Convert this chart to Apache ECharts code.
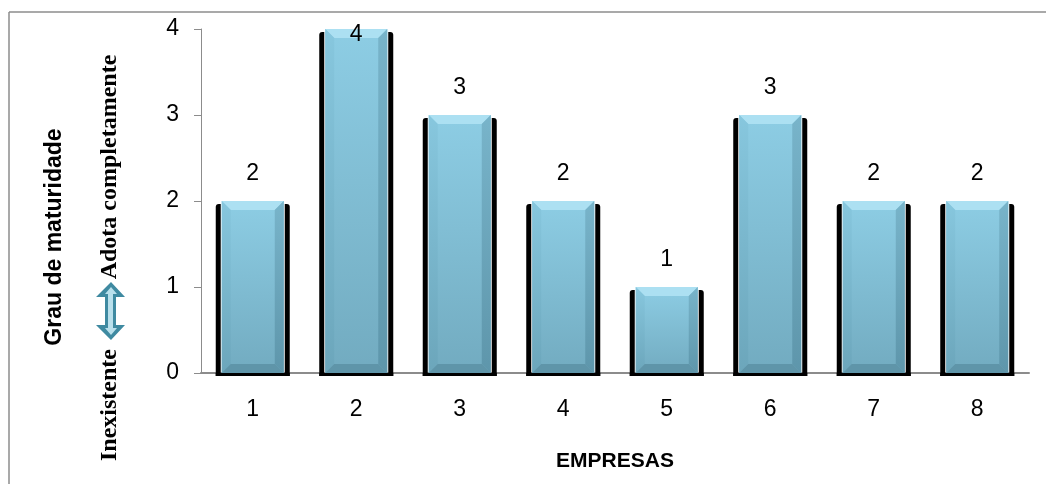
<!DOCTYPE html>
<html>
<head>
<meta charset="utf-8">
<script src="https://cdn.jsdelivr.net/npm/echarts@6/dist/echarts.min.js"></script>
<style>
  html, body { margin: 0; padding: 0; background: #fff; }
  #chart { width: 1046px; height: 484px; }
</style>
</head>
<body>
<div id="chart"></div>
<script>
var empresas = ["1", "2", "3", "4", "5", "6", "7", "8"]
var maturidade = [2, 4, 3, 2, 1, 3, 2, 2]
var yTicks = [0, 1, 2, 3, 4]

var chartDom = document.getElementById("chart")
var myChart = echarts.init(chartDom)
var option

// bar drawn like the bevelled excel column with dark side shadows
function renderBar(params, api) {
    var i = api.value(0)
    var v = api.value(1)
    var top = api.coord([i, v])
    var base = api.coord([i, 0])
    var cx = top[0]
    var w = api.size([1, 0])[0] * 0.715
    var x0 = cx - w / 2
    var x1 = cx + w / 2
    var ty = top[1]
    var by = base[1]
    var side = 5
    var bx0 = x0 + side + 1
    var bx1 = x1 - side - 1
    var bev = 9
    var plotTop = api.coord([0, 4])[1]
    var labelY = Math.max(ty - 27, plotTop + 6)
    return {
        type: "group",
        children: [
            { type: "rect", shape: { x: x0, y: ty + 3, width: side, height: by - ty, r: [3, 0, 0, 0] }, style: { fill: "#000" } },
            { type: "rect", shape: { x: x1 - side, y: ty + 3, width: side, height: by - ty, r: [0, 3, 0, 0] }, style: { fill: "#000" } },
            { type: "rect", shape: { x: x0, y: by, width: w, height: 3 }, style: { fill: "#000" } },
            { type: "rect", shape: { x: bx0, y: ty, width: bx1 - bx0, height: by - ty },
              style: { fill: new echarts.graphic.LinearGradient(0, 0, 0, 1, [
                  { offset: 0, color: "#8dcde4" }, { offset: 1, color: "#72abc0" }]) } },
            { type: "polygon", shape: { points: [[bx0, ty], [bx1, ty], [bx1 - bev, ty + bev], [bx0 + bev, ty + bev]] },
              style: { fill: "#ace0f2" } },
            { type: "polygon", shape: { points: [[bx0, ty], [bx0 + bev, ty + bev], [bx0 + bev, by - bev], [bx0, by]] },
              style: { fill: new echarts.graphic.LinearGradient(0, 0, 0, 1, [
                  { offset: 0, color: "#87c7de" }, { offset: 1, color: "#6ca6bb" }]) } },
            { type: "polygon", shape: { points: [[bx1, ty], [bx1 - bev, ty + bev], [bx1 - bev, by - bev], [bx1, by]] },
              style: { fill: new echarts.graphic.LinearGradient(0, 0, 0, 1, [
                  { offset: 0, color: "#78b4ca" }, { offset: 1, color: "#5e96ab" }]) } },
            { type: "polygon", shape: { points: [[bx0, by], [bx1, by], [bx1 - bev, by - bev], [bx0 + bev, by - bev]] },
              style: { fill: "#5f95a9" } },
            { type: "text", style: { text: String(v), x: cx, y: labelY, align: "center", verticalAlign: "middle",
              fontSize: 23, fontFamily: "Liberation Sans", fill: "#000" } }
        ]
    }
}

option = {
    animation: false,
    backgroundColor: "#fff",
    grid: {
        left: 201,
        right: 17,
        top: 29,
        bottom: 111
    },
    xAxis: {
        type: "category",
        data: empresas,
        axisLine: { lineStyle: { color: "#8c8c8c", width: 2 } },
        axisTick: { show: false },
        axisLabel: { fontSize: 23, color: "#000", fontFamily: "Liberation Sans", margin: 25 },
        name: "EMPRESAS",
        nameLocation: "middle",
        nameGap: 78,
        nameTextStyle: { fontSize: 21, fontWeight: "bold", color: "#000", fontFamily: "Liberation Sans" }
    },
    yAxis: {
        type: "value",
        min: yTicks[0],
        max: yTicks[yTicks.length - 1],
        interval: 1,
        axisLine: { show: true, lineStyle: { color: "#8c8c8c", width: 1 } },
        axisTick: { show: true, length: 7, lineStyle: { color: "#8c8c8c" } },
        splitLine: { show: false },
        axisLabel: { fontSize: 23, color: "#000", fontFamily: "Liberation Sans", margin: 22 }
    },
    graphic: [
        { type: "line", shape: { x1: 9, y1: 12, x2: 1046, y2: 12 }, style: { stroke: "#8c8c8c", lineWidth: 1.5 } },
        { type: "line", shape: { x1: 9, y1: 12, x2: 9, y2: 484 }, style: { stroke: "#8c8c8c", lineWidth: 1.5 } },
        { type: "text", x: 55, y: 237, rotation: Math.PI / 2,
          style: { text: "Grau de maturidade", align: "center", verticalAlign: "middle",
                   fontSize: 23, fontWeight: "bold", fontFamily: "Liberation Sans", fill: "#000" } },
        { type: "text", x: 110, y: 167, rotation: Math.PI / 2,
          style: { text: "Adota completamente", align: "center", verticalAlign: "middle",
                   fontSize: 24, fontWeight: "bold", fontFamily: "Liberation Serif", fill: "#000" } },
        { type: "text", x: 110, y: 405, rotation: Math.PI / 2,
          style: { text: "Inexistente", align: "center", verticalAlign: "middle",
                   fontSize: 24, fontWeight: "bold", fontFamily: "Liberation Serif", fill: "#000" } },
        { type: "polygon", shape: { points: [[111, 282], [125, 297], [116, 297], [116, 325], [125, 325], [111, 340],
                                             [96, 325], [105, 325], [105, 297], [96, 297]] },
          style: { fill: "#3f8aa1" } },
        { type: "polygon", shape: { points: [[111, 287], [117, 294], [113, 294], [113, 328], [117, 328], [111, 335],
                                             [105, 328], [108, 328], [108, 294], [105, 294]] },
          style: { fill: "#b9e0ec" } }
    ],
    series: [
        {
            type: "custom",
            renderItem: renderBar,
            data: maturidade.map(function (v, i) { return [i, v] }),
            encode: { x: 0, y: 1 },
            clip: false
        }
    ]
}

option && myChart.setOption(option)
</script>
</body>
</html>
